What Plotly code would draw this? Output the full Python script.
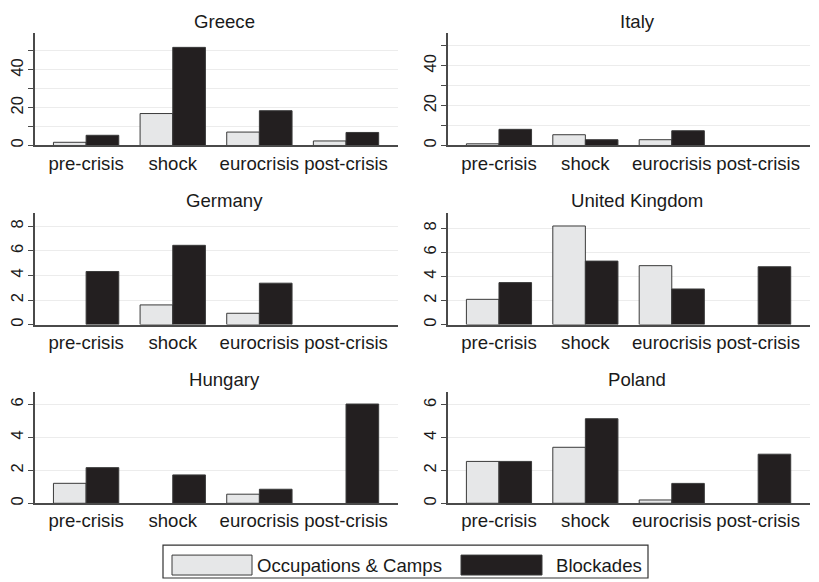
import plotly.graph_objects as go

categories = ["pre-crisis", "shock", "eurocrisis", "post-crisis"]
countries = ["Greece", "Italy", "Germany", "United Kingdom", "Hungary", "Poland"]

greece_occ = [1.7, 16.9, 7.1, 2.4]
greece_block = [5.4, 51.9, 18.4, 6.9]
italy_occ = [0.85, 5.4, 2.9, 0]
italy_block = [8.1, 2.9, 7.4, 0]
germany_occ = [0, 1.6, 0.92, 0]
germany_block = [4.32, 6.45, 3.37, 0]
uk_occ = [2.1, 8.2, 4.9, 0]
uk_block = [3.49, 5.28, 2.96, 4.81]
hungary_occ = [1.21, 0, 0.55, 0]
hungary_block = [2.16, 1.72, 0.85, 6.02]
poland_occ = [2.55, 3.41, 0.2, 0]
poland_block = [2.55, 5.15, 1.21, 2.99]

occ_series = [greece_occ, italy_occ, germany_occ, uk_occ, hungary_occ, poland_occ]
block_series = [greece_block, italy_block, germany_block, uk_block, hungary_block, poland_block]

series_names = ["Occupations & Camps", "Blockades"]

W, H = 819, 582
FONT = "Liberation Sans, Arial, sans-serif"
FS = 18.6
YFS = 16.5
OCC_FILL = "#e6e7e8"
BLOCK_FILL = "#231f20"
EDGE = "#3a3a3a"
AXIS = "#4a4a4a"
GRID = "#ececec"
TXT = "#1a1a1a"

# panel geometry in pixels (left, right, top, bottom)
cols = [(35, 398), (448, 810)]
rows = [(33.5, 146), (213.5, 325.7), (393, 505)]
yranges = [59.3, 56.2, 9.1, 9.3, 6.77, 6.8]
ydticks = [20, 20, 2, 2, 2, 2]
yminor = [10, 10, None, None, None, None]
title_x = [224.5, 637]


def edge_widths(vals):
    return [0 if v == 0 else 1 for v in vals]


fig = go.Figure()
for i, name in enumerate(countries):
    r, c = divmod(i, 2)
    ax = "" if i == 0 else str(i + 1)
    fig.add_trace(go.Bar(
        x=categories, y=occ_series[i], name=series_names[0],
        marker=dict(color=OCC_FILL, line=dict(color=EDGE, width=edge_widths(occ_series[i]))),
        xaxis="x" + ax, yaxis="y" + ax, showlegend=False, offsetgroup="a"))
    fig.add_trace(go.Bar(
        x=categories, y=block_series[i], name=series_names[1],
        marker=dict(color=BLOCK_FILL, line=dict(color=EDGE, width=edge_widths(block_series[i]))),
        xaxis="x" + ax, yaxis="y" + ax, showlegend=False, offsetgroup="b"))
    x0, x1 = cols[c]
    t, b = rows[r]
    xa = dict(domain=[x0 / W, x1 / W], anchor="y" + ax, type="category",
              range=[-0.59, 3.6], showline=True, linecolor=AXIS, linewidth=1.5,
              ticks="", showgrid=False, zeroline=False,
              tickfont=dict(family=FONT, size=FS, color=TXT),
              ticklabelstandoff=0, fixedrange=True)
    ya = dict(domain=[1 - b / H, 1 - t / H], anchor="x" + ax,
              range=[0, yranges[i]], dtick=ydticks[i], tick0=0,
              showline=True, linecolor=AXIS, linewidth=1.5,
              ticks="outside", ticklen=5, tickcolor=AXIS, tickwidth=1,
              showgrid=True, gridcolor=GRID, gridwidth=1, zeroline=False,
              tickangle=-90, ticklabelstandoff=-1,
              tickfont=dict(family=FONT, size=YFS, color=TXT),
              fixedrange=True)
    if yminor[i]:
        ya["minor"] = dict(dtick=yminor[i], tick0=0, ticks="outside", ticklen=5,
                           tickcolor=AXIS, showgrid=True, gridcolor=GRID)
    fig.layout["xaxis" + ax] = xa
    fig.layout["yaxis" + ax] = ya
    fig.add_annotation(text=name, x=title_x[c] / W, y=1 - (t - 12) / H,
                       xref="paper", yref="paper", xanchor="center", yanchor="middle",
                       showarrow=False, font=dict(family=FONT, size=FS, color=TXT))

# legend drawn as a box with swatches
shapes = [
    dict(type="rect", xref="paper", yref="paper", x0=163 / W, x1=648 / W,
         y0=1 - 580 / H, y1=1 - 547 / H, line=dict(color="#333333", width=1.2),
         fillcolor="white"),
    dict(type="rect", xref="paper", yref="paper", x0=172 / W, x1=252 / W,
         y0=1 - 577 / H, y1=1 - 557 / H, line=dict(color=EDGE, width=1),
         fillcolor=OCC_FILL),
    dict(type="rect", xref="paper", yref="paper", x0=461 / W, x1=542 / W,
         y0=1 - 577 / H, y1=1 - 557 / H, line=dict(color=EDGE, width=1),
         fillcolor=BLOCK_FILL),
]
fig.update_layout(shapes=shapes)
fig.add_annotation(text=series_names[0], x=255 / W, y=1 - 567 / H, xref="paper", yref="paper",
                   xanchor="left", yanchor="middle", showarrow=False,
                   font=dict(family=FONT, size=FS, color=TXT))
fig.add_annotation(text=series_names[1], x=554 / W, y=1 - 567 / H, xref="paper", yref="paper",
                   xanchor="left", yanchor="middle", showarrow=False,
                   font=dict(family=FONT, size=FS, color=TXT))

fig.update_layout(
    width=W, height=H, margin=dict(l=0, r=0, t=0, b=0),
    barmode="group", bargap=0.246, bargroupgap=0,
    paper_bgcolor="white", plot_bgcolor="white",
    font=dict(family=FONT, size=FS, color=TXT),
    showlegend=False,
)
fig.write_html("out.html", config={"displayModeBar": False},
               post_script="document.body.style.margin='0';document.body.style.overflow='hidden';")
